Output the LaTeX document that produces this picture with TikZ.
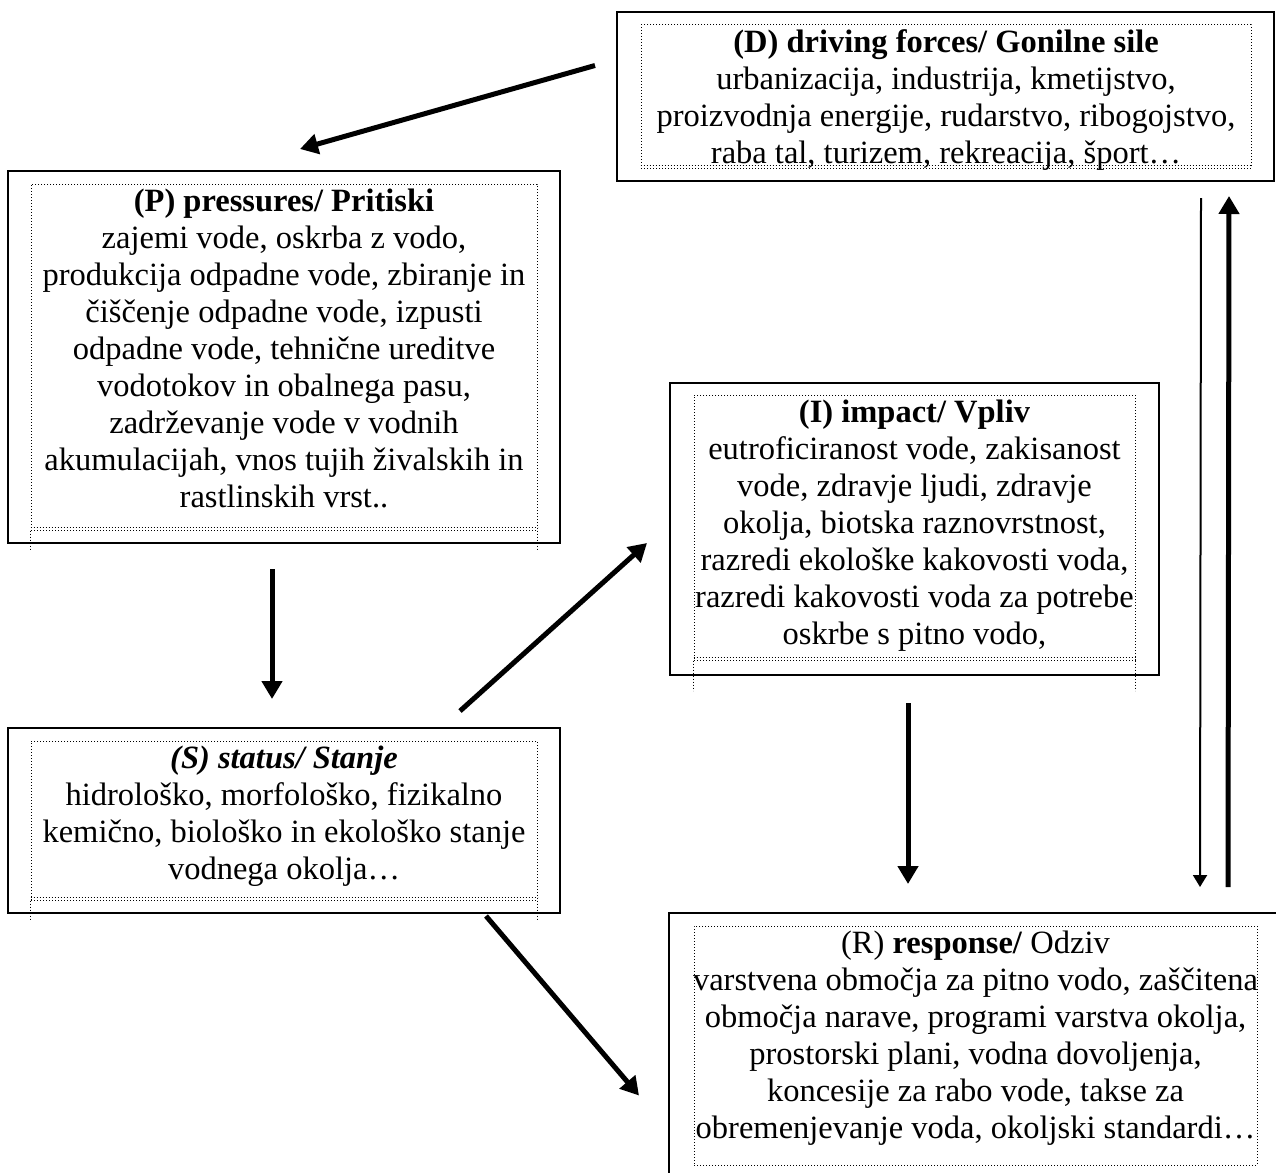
\documentclass[tikz,border=0pt]{standalone}
\usepackage{fontspec}
\setmainfont{Liberation Serif}
\usetikzlibrary{arrows.meta, calc}

\begin{document}
\begin{tikzpicture}[x=1pt, y=-1pt, ->, >={Triangle[length=18pt, width=20pt]}]
    \tikzstyle{outerbox} = [draw, line width=2pt, rectangle, inner sep=0pt]
    \tikzstyle{dotbox} = [draw, line width=1pt, dash pattern=on 1pt off 2pt, inner sep=0pt]
    \tikzstyle{label} = [anchor=north, align=center, inner sep=0pt,
        font=\fontsize{32.5}{37}\selectfont]
    \tikzstyle{dots} = [-, line width=1pt, dash pattern=on 1pt off 2pt]
    \tikzstyle{flow} = [line width=5pt]
    \tikzstyle{flowthin} = [line width=2pt, >={Triangle[length=12pt, width=14pt]}]
    \clip (0,0) rectangle (1276,1172);
    % outer frames
    \node [outerbox, minimum width=657pt, minimum height=169pt] at (945.5,96.5) (D) {};
    \node [outerbox, minimum width=552pt, minimum height=372pt] at (284,357) (P) {};
    \node [outerbox, minimum width=489pt, minimum height=292pt] at (914.5,529) (I) {};
    \node [outerbox, minimum width=552pt, minimum height=185pt] at (284,820.5) (S) {};
    \node [outerbox, minimum width=621pt, minimum height=277pt] at (979.5,1051.5) (R) {};
    % dotted text frames
    \node [dotbox, minimum width=610pt, minimum height=143pt] at (946,96.5) (Dt) {};
    \node [dotbox, minimum width=506pt, minimum height=346pt] at (284,357) (Pt) {};
    \node [dotbox, minimum width=441pt, minimum height=265pt] at (914.5,527.5) (It) {};
    \node [dotbox, minimum width=506pt, minimum height=159pt] at (284,820.5) (St) {};
    \node [dotbox, minimum width=563pt, minimum height=239pt] at (975.5,1045.5) (Rt) {};
    % texts
    \node [label] at ($(Dt.north)+(0,5)$) (Dl)
        {\textbf{(D) driving forces/ Gonilne sile}\\urbanizacija, industrija, kmetijstvo,\\
        proizvodnja energije, rudarstvo, ribogojstvo,\\raba tal, turizem, rekreacija, šport\ldots};
    \node [label] at ($(Pt.north)+(0,5)$) (Pl)
        {\textbf{(P) pressures/ Pritiski}\\zajemi vode, oskrba z vodo,\\
        produkcija odpadne vode, zbiranje in\\čiščenje odpadne vode, izpusti\\
        odpadne vode, tehnične ureditve\\vodotokov in obalnega pasu,\\
        zadrževanje vode v vodnih\\akumulacijah, vnos tujih živalskih in\\rastlinskih vrst..};
    \node [label] at ($(It.north)+(0,5)$) (Il)
        {\textbf{(I) impact/ Vpliv}\\eutroficiranost vode, zakisanost\\
        vode, zdravje ljudi, zdravje\\okolja, biotska raznovrstnost,\\
        razredi ekološke kakovosti voda,\\razredi kakovosti voda za potrebe\\
        oskrbe s pitno vodo,};
    \node [label] at ($(St.north)+(0,5)$) (Sl)
        {\textbf{\textit{(S) status/ Stanje}}\\hidrološko, morfološko, fizikalno\\
        kemično, biološko in ekološko stanje\\vodnega okolja\ldots};
    \node [label] at ($(Rt.north)+(0,5)$) (Rl)
        {(R) \textbf{response/} Odziv\\varstvena območja za pitno vodo, zaščitena\\
        območja narave, programi varstva okolja,\\prostorski plani, vodna dovoljenja,\\
        koncesije za rabo vode, takse za\\obremenjevanje voda, okoljski standardi\ldots};
    % double bottom line and loose ends of the text frames
    \foreach \n/\l in {Dt/0, Pt/20, It/30, St/20} {
        \draw [dots] ($(\n.south west)+(0,-3)$) -- ($(\n.south east)+(0,-3)$);
        \draw [dots] (\n.south west) -- ++(0,\l);
        \draw [dots] (\n.south east) -- ++(0,\l);
    }
    % arrows
    \draw [flow] ($(D.west)+(-21,-31)$) -- ($(P.north)+(16,-21)$);
    \draw [flow] ($(P.south)+(-12,25)$) -- ($(S.north)+(-12,-28)$);
    \draw [flow] ($(S.north)+(176,-16)$) -- ($(I.west)+(-22,14)$);
    \draw [flow] ($(S.south)+(202,2)$) -- ($(R.west)+(-29,44)$);
    \draw [flow] ($(I.south)+(-6.5,27)$) -- ($(R.north)+(-71.5,-28)$);
    \draw [flowthin] ($(D.south east)+(-74,16)$) -- ($(R.north)+(220.5,-25)$);
    \draw [flow] ($(R.north)+(248.5,-25)$) -- ($(D.south east)+(-46,14)$);
\end{tikzpicture}
\end{document}
